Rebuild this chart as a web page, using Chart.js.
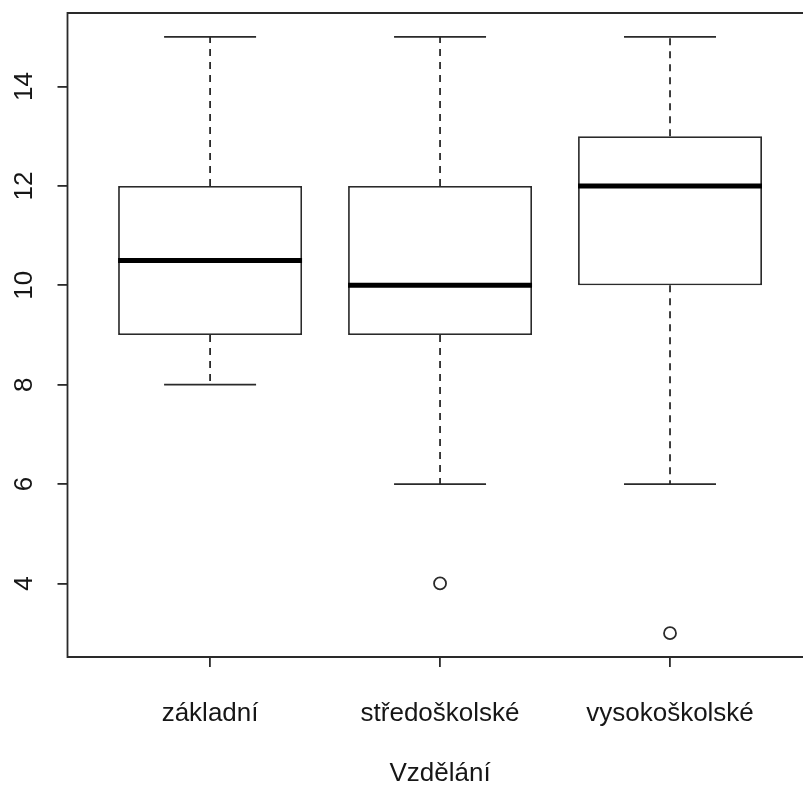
<!DOCTYPE html>
<html>
<head>
<meta charset="utf-8">
<script src="https://cdn.jsdelivr.net/npm/chart.js@4"></script>
<style>
	html, body { margin: 0; padding: 0; background: #fff; overflow: hidden; }
	#wrap { width: 830px; height: 787px; }
</style>
</head>
<body>
<div id="wrap"><canvas id="myChart" width="830" height="787"></canvas></div>
<script>
// data
const categories = ["základní", "středoškolské", "vysokoškolské"];
const minimum = [8, 6, 6];
const quartil1 = [9, 9, 10];
const median = [10.5, 10, 12];
const quartil3 = [12, 12, 13];
const maximum = [15, 15, 15];
const outliers = [[], [4], [3]];
const yTicks = [4, 6, 8, 10, 12, 14];
const xTitle = "Vzdělání";

const lineColor = "#2a2a2a";
const textColor = "#161616";
const fontFamily = "'Liberation Sans', Arial, sans-serif";

// segments for the line datasets, separated by null points
const whiskers = [];
const caps = [];
const medians = [];
categories.forEach((c, i) => {
	const x = i + 1;
	whiskers.push({ x: x, y: quartil3[i] }, { x: x, y: maximum[i] }, { x: x, y: null });
	whiskers.push({ x: x, y: quartil1[i] }, { x: x, y: minimum[i] }, { x: x, y: null });
	caps.push({ x: x - 0.2, y: maximum[i] }, { x: x + 0.2, y: maximum[i] }, { x: x, y: null });
	caps.push({ x: x - 0.2, y: minimum[i] }, { x: x + 0.2, y: minimum[i] }, { x: x, y: null });
	medians.push({ x: x - 0.4, y: median[i] }, { x: x + 0.4, y: median[i] }, { x: x, y: null });
});
const outlierPoints = [];
outliers.forEach((list, i) => {
	list.forEach((v) => outlierPoints.push({ x: i + 1, y: v }));
});

//plugin: frame of the plot (right side falls outside the window) and rotated y labels like in R
const rStyle = {
	id: "rStyle",
	afterDraw(chart) {
		const ctx = chart.ctx;
		const a = chart.chartArea;
		const y = chart.scales.y;
		ctx.save();
		ctx.strokeStyle = lineColor;
		ctx.lineWidth = 1.8;
		ctx.beginPath();
		ctx.moveTo(a.right, a.top);
		ctx.lineTo(a.left, a.top);
		ctx.lineTo(a.left, a.bottom);
		ctx.lineTo(a.right, a.bottom);
		ctx.stroke();
		ctx.fillStyle = textColor;
		ctx.font = "26px " + fontFamily;
		ctx.textAlign = "center";
		ctx.textBaseline = "alphabetic";
		yTicks.forEach((t) => {
			const py = y.getPixelForValue(t);
			ctx.save();
			ctx.translate(32, py);
			ctx.rotate(-Math.PI / 2);
			ctx.fillText(String(t), 0, 0);
			ctx.restore();
		});
		ctx.restore();
	},
};

const data = {
	datasets: [
		{
			type: "bar",
			data: categories.map((c, i) => ({ x: i + 1, y: [quartil1[i], quartil3[i]] })),
			backgroundColor: "#ffffff",
			borderColor: lineColor,
			borderWidth: 1.8,
			borderSkipped: false,
			barPercentage: 0.8,
			categoryPercentage: 1,
			order: 3,
		},
		{
			type: "line",
			data: whiskers,
			borderColor: lineColor,
			borderWidth: 1.8,
			borderDash: [7, 6],
			pointRadius: 0,
			spanGaps: false,
			order: 4,
		},
		{
			type: "line",
			data: caps,
			borderColor: lineColor,
			borderWidth: 1.8,
			pointRadius: 0,
			spanGaps: false,
			order: 2,
		},
		{
			type: "line",
			data: medians,
			borderColor: "#000000",
			borderWidth: 5,
			borderCapStyle: "butt",
			pointRadius: 0,
			spanGaps: false,
			order: 1,
		},
		{
			type: "scatter",
			data: outlierPoints,
			pointRadius: 6,
			pointBorderWidth: 1.8,
			pointBorderColor: lineColor,
			pointBackgroundColor: "#ffffff",
			order: 0,
		},
	],
};

const config = {
	type: "scatter",
	data,
	plugins: [rStyle],
	options: {
		responsive: false,
		animation: false,
		devicePixelRatio: 1,
		layout: { padding: { top: 13, right: 17.4, left: 0, bottom: 0 } },
		plugins: { legend: { display: false }, tooltip: { enabled: false } },
		scales: {
			x: {
				type: "linear",
				min: 0.38,
				max: 3.62,
				offset: false,
				afterBuildTicks: (scale) => {
					scale.ticks = categories.map((c, i) => ({ value: i + 1 }));
				},
				afterFit: (scale) => {
					scale.height = 130;
				},
				border: { display: false },
				grid: {
					offset: false,
					drawOnChartArea: false,
					drawTicks: true,
					tickLength: 10,
					color: lineColor,
					lineWidth: 1.8,
				},
				ticks: {
					autoSkip: false,
					maxRotation: 0,
					padding: 31,
					color: textColor,
					font: { family: fontFamily, size: 26 },
					callback: (v) => categories[v - 1],
				},
				title: {
					display: true,
					text: xTitle,
					color: textColor,
					font: { family: fontFamily, size: 26, lineHeight: 1 },
					padding: { top: 0, bottom: 0 },
				},
			},
			y: {
				type: "linear",
				min: 2.52,
				max: 15.48,
				afterBuildTicks: (scale) => {
					scale.ticks = yTicks.map((v) => ({ value: v }));
				},
				afterFit: (scale) => {
					scale.width = 67.5;
				},
				border: { display: false },
				grid: {
					drawOnChartArea: false,
					drawTicks: true,
					tickLength: 10,
					color: lineColor,
					lineWidth: 1.8,
				},
				ticks: { display: false },
			},
		},
	},
};

new Chart(document.getElementById("myChart"), config);
</script>
</body>
</html>
